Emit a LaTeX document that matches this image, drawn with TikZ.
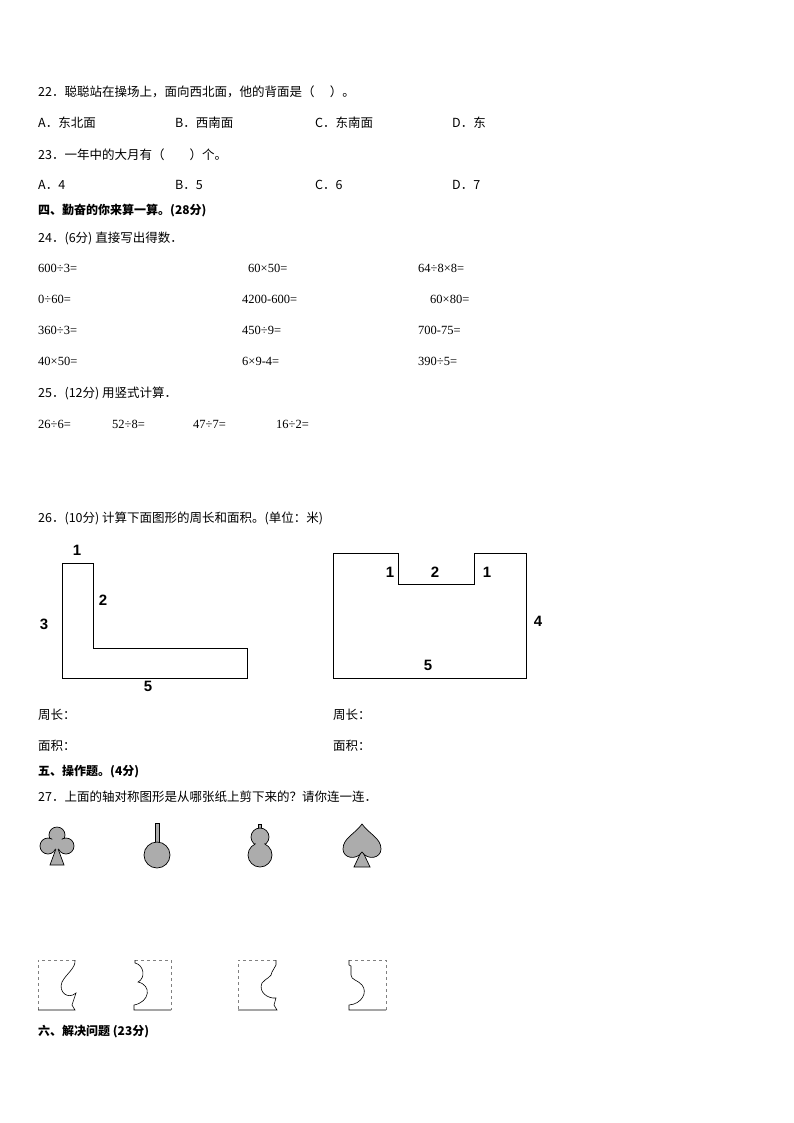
\documentclass[tikz,border=0pt]{standalone}
\usepackage{fontspec}
\setmainfont{Liberation Serif}
\newfontfamily\cjk{Noto Sans CJK SC}
\newfontfamily\bsans{Liberation Sans}
\begin{document}
\begin{tikzpicture}[x=1pt,y=-1pt,
  t/.style={anchor=west,inner sep=0pt,font=\cjk\fontsize{12.5}{14}\selectfont},
  h/.style={t,font=\cjk\bfseries\fontsize{12}{14}\selectfont},
  n/.style={anchor=west,inner sep=0pt,font=\fontsize{12.5}{14}\selectfont},
  lab/.style={inner sep=0pt,font=\bsans\bfseries\fontsize{15}{17}\selectfont},
  fig/.style={draw=black,line width=0.8pt},
  sym/.style={fill=gray!65,draw=black,line width=0.7pt},
  cutd/.style={draw=gray,dashed,line width=0.5pt},
  cuts/.style={draw=black,line width=0.6pt}]
\useasboundingbox (0,0) rectangle (794,1123);
\node[t] (q22) at (38,92) {22．聪聪站在操场上，面向西北面，他的背面是（\quad\ ）。};
\node[t] (a1) at (38,123) {A．东北面};
\node[t] (b1) at (175,123) {B．西南面};
\node[t] (c1) at (315,123) {C．东南面};
\node[t] (d1) at (452,123) {D．东};
\node[t] (q23) at (38,155) {23．一年中的大月有（\qquad）个。};
\node[t] (a2) at (38,185) {A．4};
\node[t] (b2) at (175,185) {B．5};
\node[t] (c2) at (315,185) {C．6};
\node[t] (d2) at (452,185) {D．7};
\node[h] (s4) at (38,211) {四、勤奋的你来算一算。(28分)};
\node[t] (q24) at (38,238) {24．(6分) 直接写出得数．};
\node[n] (e1) at (38,268) {600÷3=};
\node[n] (e2) at (248,268) {60×50=};
\node[n] (e3) at (418,268) {64÷8×8=};
\node[n] (e4) at (38,299) {0÷60=};
\node[n] (e5) at (242,299) {4200-600=};
\node[n] (e6) at (430,299) {60×80=};
\node[n] (e7) at (38,330) {360÷3=};
\node[n] (e8) at (242,330) {450÷9=};
\node[n] (e9) at (418,330) {700-75=};
\node[n] (e10) at (38,361) {40×50=};
\node[n] (e11) at (242,361) {6×9-4=};
\node[n] (e12) at (418,361) {390÷5=};
\node[t] (q25) at (38,393) {25．(12分) 用竖式计算．};
\node[n] (f1) at (38,424) {26÷6=};
\node[n] (f2) at (112,424) {52÷8=};
\node[n] (f3) at (193,424) {47÷7=};
\node[n] (f4) at (276,424) {16÷2=};
\node[t] (q26) at (38,518) {26．(10分) 计算下面图形的周长和面积。(单位：米)};
\draw[fig] (62,563) -- (93,563) -- (93,648) -- (247,648) -- (247,678) -- (62,678) -- cycle;
\node[lab] (l1) at (77,550) {1};
\node[lab] (l2) at (103,600) {2};
\node[lab] (l3) at (44,624) {3};
\node[lab] (l5) at (148,686) {5};
\draw[fig] (333,553) -- (398,553) -- (398,584) -- (474,584) -- (474,553) -- (526,553) -- (526,678) -- (333,678) -- cycle;
\node[lab] (m1) at (390,572) {1};
\node[lab] (m2) at (435,572) {2};
\node[lab] (m3) at (487,572) {1};
\node[lab] (m4) at (538,621) {4};
\node[lab] (m5) at (428,665) {5};
\node[t] (p1) at (38,715) {周长：};
\node[t] (p2) at (333,715) {周长：};
\node[t] (s1) at (38,746) {面积：};
\node[t] (s2) at (333,746) {面积：};
\node[h] (s5) at (38,772) {五、操作题。(4分)};
\node[t] (q27) at (38,797) {27．上面的轴对称图形是从哪张纸上剪下来的？请你连一连．};
% club
\draw[sym] (50,865) -- (57,846) -- (64,865) -- cycle;
\draw[sym] (57,835) circle (8);
\draw[sym] (48,846) circle (8);
\draw[sym] (66,846) circle (8);
\fill[gray!65] (57,843) circle (6);
% stem + circle
\draw[sym] (155,823) rectangle (159,844);
\draw[sym] (157,855) circle (13);
% gourd
\draw[sym] (258,824) rectangle (261,829);
\draw[sym] (260,837) circle (9);
\draw[sym] (260,855) circle (12);
\fill[gray!65] (260,846) circle (5);
% spade
\draw[sym] (354,867) -- (362,850) -- (370,867) -- cycle;
\draw[sym] (362,824) .. controls (355,834) and (343,838) .. (343,849) .. controls (343,858) and (356,861) .. (362,852) .. controls (368,861) and (381,858) .. (381,849) .. controls (381,838) and (369,834) .. (362,824) -- cycle;
% cut papers
\draw[cutd] (75,960) -- (38,960) -- (38,1010);
\draw[cuts] (38,1010) -- (75,1010) -- (72,1005) -- (76,993) .. controls (68,1000) and (58,992) .. (62,982) .. controls (66,974) and (76,968) .. (75,960);
\draw[cutd] (135,960) -- (171,960) -- (171,1010);
\draw[cuts] (171,1010) -- (134,1010) -- (134,1005) .. controls (150,1002) and (152,985) .. (138,982) .. controls (146,978) and (144,965) .. (135,963) -- (135,960);
\draw[cutd] (276,960) -- (238,960) -- (238,1010);
\draw[cuts] (238,1010) -- (277,1010) -- (274,1005) -- (276,998) .. controls (268,999) and (258,992) .. (262,983) .. controls (266,978) and (272,977) .. (272,972) -- (276,965) -- (276,960);
\draw[cutd] (349,960) -- (386,960) -- (386,1010);
\draw[cuts] (386,1010) -- (349,1010) -- (349,1005) .. controls (362,1004) and (368,992) .. (362,985) .. controls (358,980) and (351,980) .. (351,975) -- (351,966) -- (349,965) -- (349,960);
\node[h] (s6) at (38,1032) {六、解决问题 (23分)};
\end{tikzpicture}
\end{document}
